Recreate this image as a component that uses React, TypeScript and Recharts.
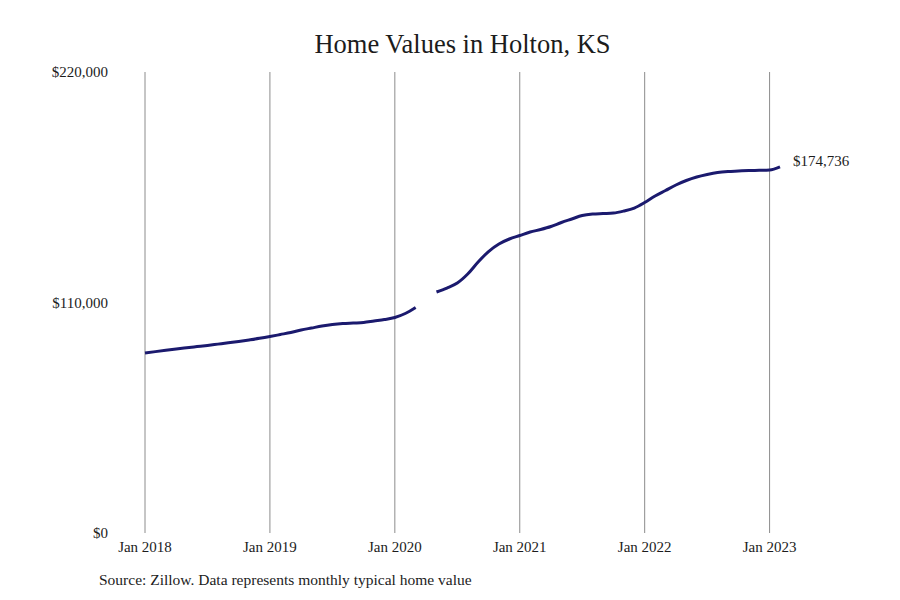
import { ComposedChart, Line, XAxis, YAxis, ReferenceLine, LabelList } from 'recharts'

// monthly typical home value, Jan 2018 .. Feb 2023 (Apr 2020 missing)
const months = [
  '2018-01', '2018-02', '2018-03', '2018-04', '2018-05', '2018-06', '2018-07', '2018-08', '2018-09', '2018-10', '2018-11', '2018-12',
  '2019-01', '2019-02', '2019-03', '2019-04', '2019-05', '2019-06', '2019-07', '2019-08', '2019-09', '2019-10', '2019-11', '2019-12',
  '2020-01', '2020-02', '2020-03', '2020-04', '2020-05', '2020-06', '2020-07', '2020-08', '2020-09', '2020-10', '2020-11', '2020-12',
  '2021-01', '2021-02', '2021-03', '2021-04', '2021-05', '2021-06', '2021-07', '2021-08', '2021-09', '2021-10', '2021-11', '2021-12',
  '2022-01', '2022-02', '2022-03', '2022-04', '2022-05', '2022-06', '2022-07', '2022-08', '2022-09', '2022-10', '2022-11', '2022-12',
  '2023-01', '2023-02',
]

const values: (number | null)[] = [
  85900, 86560, 87190, 87800, 88380, 88950, 89520, 90140, 90760, 91430, 92150, 92910,
  93770, 94720, 95680, 96870, 97830, 98780, 99500, 99970, 100210, 100450, 101170, 101880,
  102840, 104740, 107610, null, 115000, 116910, 119300, 123600, 129320, 134300, 137910, 140300,
  141970, 143640, 144830, 146260, 148170, 149840, 151510, 152230, 152470, 152700, 153660, 155090,
  157720, 160820, 163440, 166070, 168210, 169880, 171080, 172030, 172510, 172750, 172990, 173080,
  173220, 174736,
]

const yTicks = [0, 110000, 220000]
const xTicks = [0, 12, 24, 36, 48, 60]
const xTickLabels = ['Jan 2018', 'Jan 2019', 'Jan 2020', 'Jan 2021', 'Jan 2022', 'Jan 2023']

const data = months.map((m, i) => ({ m, idx: i, value: values[i] }))

const FONT = '"Liberation Serif", "DejaVu Serif", serif'
const INK = '#1c1c1c'
const NAVY = '#1b1a6e'

const fmtMoney = (v: number) => '$' + v.toLocaleString('en-US')

export default function App() {
  const lastIdx = data.length - 1
  return (
    <div style={{ position: 'absolute', left: 0, top: 0, width: 900, height: 600, background: '#fff', fontFamily: FONT, color: INK }}>
      <div style={{ position: 'absolute', left: 145, width: 635, top: 26, textAlign: 'center', fontSize: 26.5, lineHeight: '36px' }}>
        Home Values in Holton, KS
      </div>
      <ComposedChart
        width={900}
        height={600}
        data={data}
        margin={{ top: 72, right: 120, bottom: 37, left: 45 }}
      >
        {/* vertical grid only at the January ticks */}
        {xTicks.map((t) => (
          <ReferenceLine key={t} x={t} stroke="#8c8c8c" strokeWidth={1} />
        ))}
        <XAxis
          dataKey="idx"
          type="number"
          domain={[0, lastIdx]}
          ticks={xTicks}
          tickFormatter={(v: number) => xTickLabels[xTicks.indexOf(v)]}
          axisLine={false}
          tickLine={false}
          height={30}
          tick={{ fontSize: 15, fill: INK, fontFamily: FONT }}
        />
        <YAxis
          type="number"
          domain={[0, 220000]}
          ticks={yTicks}
          tickFormatter={fmtMoney}
          axisLine={false}
          tickLine={false}
          width={100}
          tickMargin={31}
          tick={{ fontSize: 15, fill: INK, fontFamily: FONT }}
        />
        <Line
          type="monotone"
          dataKey="value"
          stroke={NAVY}
          strokeWidth={3}
          dot={false}
          activeDot={false}
          connectNulls={false}
          isAnimationActive={false}
        >
          <LabelList
            dataKey="value"
            content={(p: any) =>
              p.index === lastIdx ? (
                <text x={p.x + 13} y={p.y - 6} dominantBaseline="central" fontSize={15} fill={INK} fontFamily={FONT}>
                  {fmtMoney(p.value)}
                </text>
              ) : null
            }
          />
        </Line>
      </ComposedChart>
      <div style={{ position: 'absolute', left: 99, top: 570, fontSize: 15.5, lineHeight: '20px' }}>
        Source: Zillow. Data represents monthly typical home value
      </div>
    </div>
  )
}
